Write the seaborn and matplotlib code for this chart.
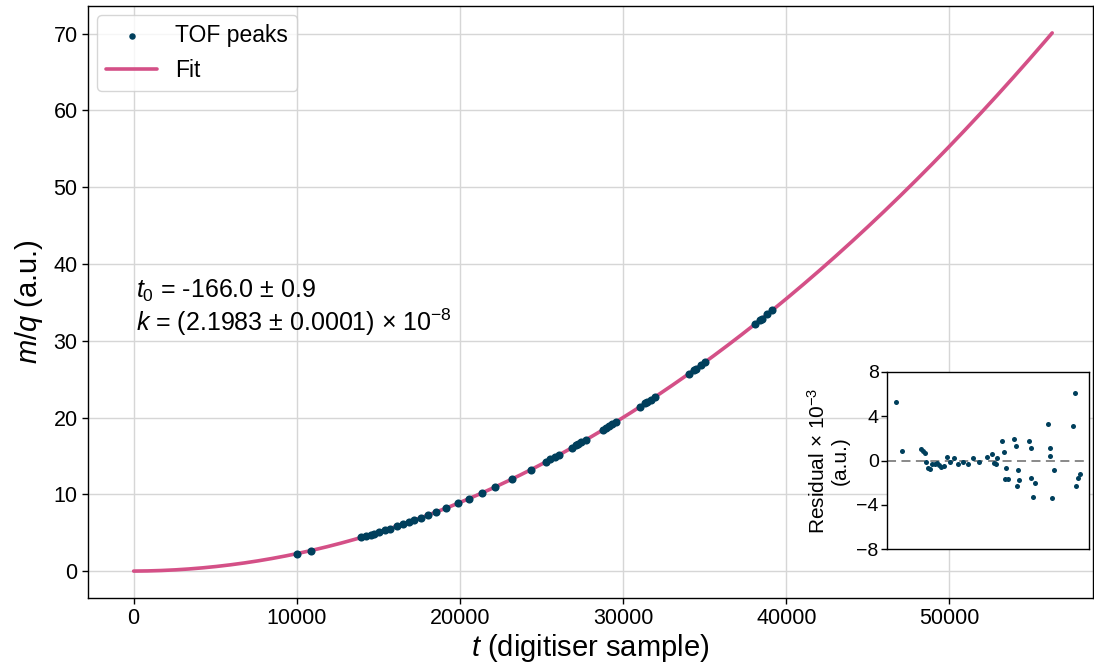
import numpy as np
import pandas as pd
import matplotlib
matplotlib.use("Agg")
import matplotlib.pyplot as plt
import seaborn as sns

# ---- data ----
t_peaks = [10000, 10850, 13950, 14216, 14532, 14743, 15007, 15375, 15692, 16113,
           16535, 16851, 17167, 17589, 18010, 18537, 19170, 19855, 20540, 21331,
           22174, 23175, 24334, 25283, 25547, 25810, 26074, 26864, 27128, 27233,
           27444, 27707, 28761, 28972, 29130, 29341, 29552, 31027, 31344, 31449,
           31712, 31976, 34031, 34347, 34453, 34769, 35033, 38089, 38405, 38511,
           38827, 39143]
mq_peaks = [2.277, 2.669, 4.381, 4.548, 4.750, 4.886, 5.060, 5.309, 5.528, 5.825,
            6.131, 6.365, 6.604, 6.929, 7.263, 7.690, 8.219, 8.812, 9.425, 10.159,
            10.971, 11.976, 13.195, 14.238, 14.534, 14.833, 15.136, 16.063, 16.377, 16.501,
            16.757, 17.077, 18.397, 18.665, 18.865, 19.139, 19.413, 21.369, 21.828, 21.970,
            22.336, 22.709, 25.711, 26.186, 26.346, 26.826, 27.236, 32.174, 32.711, 32.882,
            33.423, 33.967]
resid_e3 = [5.3, 0.9, 1.0, 0.85, 0.7, -0.1, -0.7, -0.75, -0.3, -0.3,
            -0.2, -0.4, -0.6, -0.5, 0.3, -0.1, 0.2, -0.3, -0.1, -0.3,
            0.2, -0.1, 0.3, 0.6, -0.25, -0.3, 0.2, 1.8, 0.75, -1.7,
            -0.7, -1.7, 1.9, 1.35, -2.3, -0.9, -1.75, 1.8, 1.1, -1.55,
            -3.3, -2.0, 3.3, 1.1, 0.4, -3.35, -0.85, 3.1, 6.1, -2.3,
            -1.6, -1.2]

t0_fit = -166.0
k_fit = 2.1983e-8
t_fit_max = 56300
x_ticks = [0, 10000, 20000, 30000, 40000, 50000]
y_ticks = [0, 10, 20, 30, 40, 50, 60, 70]
res_ticks = [-8, -4, 0, 4, 8]

c_pts = "#003f5c"
c_fit = "#d45087"

# ---- style ----
sns.set_theme(style="whitegrid")
plt.rcParams["font.family"] = ["Liberation Sans", "DejaVu Sans"]
plt.rcParams["mathtext.fontset"] = "custom"
plt.rcParams["mathtext.rm"] = "Liberation Sans"
plt.rcParams["mathtext.it"] = "Liberation Sans:italic"
plt.rcParams["mathtext.bf"] = "Liberation Sans:bold"
for key in ["text.color", "axes.labelcolor", "xtick.color", "ytick.color"]:
    plt.rcParams[key] = "black"

fig = plt.figure(figsize=(10.94, 6.70), dpi=100)
ax = fig.add_axes([88 / 1094, 72 / 670, 1005 / 1094, 592 / 670])

t_line = np.linspace(0, t_fit_max, 400)
fit_df = pd.DataFrame({"t": t_line, "mq": k_fit * (t_line - t0_fit) ** 2})
peaks_df = pd.DataFrame({"t": t_peaks, "mq": mq_peaks, "res": resid_e3})

sns.lineplot(data=fit_df, x="t", y="mq", ax=ax, color=c_fit, lw=2.6, label="Fit", zorder=2)
sns.scatterplot(data=peaks_df, x="t", y="mq", ax=ax, color=c_pts, s=34, linewidth=0,
                label="TOF peaks", zorder=3)

ax.set_xlim(-2800, 58800)
ax.set_xticks(x_ticks)
ax.set_yticks(y_ticks)
ax.grid(True, color="#d6d6d6", lw=1.0)
for s in ax.spines.values():
    s.set_color("black")
    s.set_linewidth(1.0)
ax.tick_params(axis="both", labelsize=15.5, length=4, width=1, color="black",
               bottom=True, left=True, direction="out")
ax.set_xlabel("$t$ (digitiser sample)", fontsize=21, labelpad=2)
ax.set_ylabel("$m/q$ (a.u.)", fontsize=21, labelpad=6)

handles, labels = ax.get_legend_handles_labels()
order = [labels.index("TOF peaks"), labels.index("Fit")]
leg = ax.legend([handles[i] for i in order], [labels[i] for i in order],
                loc="upper left", fontsize=16.5, frameon=True, fancybox=True,
                borderpad=0.4, handlelength=2.2, markerscale=0.8,
                borderaxespad=0.4)
leg.get_frame().set_edgecolor("#cccccc")

ax.text(0.048, 0.519, "$t_0$ = -166.0 ± 0.9", transform=ax.transAxes,
        fontsize=18, va="center", ha="left")
ax.text(0.048, 0.466, "$k$ = (2.1983 ± 0.0001) × 10$^{-8}$", transform=ax.transAxes,
        fontsize=18, va="center", ha="left")

# ---- inset residuals ----
axi = fig.add_axes([887 / 1094, 121 / 670, 202 / 1094, 177 / 670])
axi.set_facecolor("white")
sns.scatterplot(data=peaks_df, x="t", y="res", ax=axi, color=c_pts, s=13, linewidth=0, zorder=3)
axi.axhline(0, color="gray", ls=(0, (5, 3)), lw=1.3, zorder=2)
axi.set_ylim(-8, 8)
axi.set_yticks(res_ticks)
axi.set_yticklabels(["\u22128", "\u22124", "0", "4", "8"])
axi.set_xticks([])
axi.grid(False)
for s in axi.spines.values():
    s.set_color("black")
    s.set_linewidth(1.0)
axi.tick_params(axis="y", labelsize=14, length=4, width=1, color="black", left=True, pad=2)
axi.set_xlabel("")
axi.set_ylabel("Residual × 10$^{-3}$\n(a.u.)", fontsize=15, labelpad=5, linespacing=1.1)

fig.savefig("out.png", dpi=100)
